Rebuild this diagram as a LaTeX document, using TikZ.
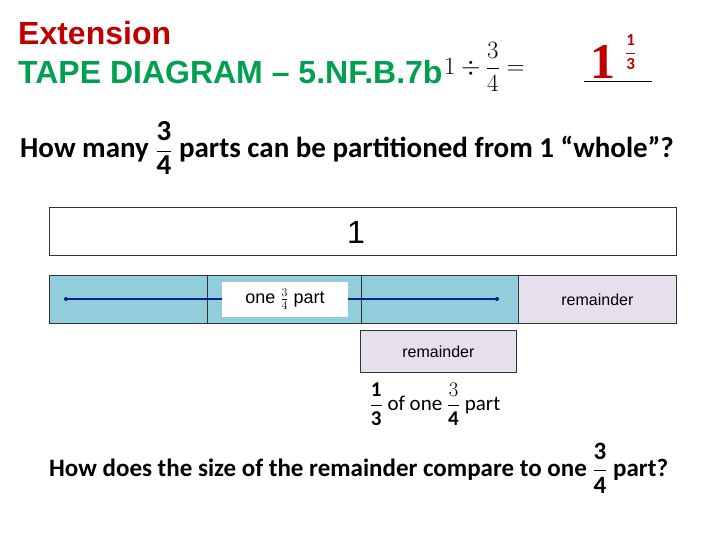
\documentclass[tikz,border=0pt]{standalone}
\usepackage{fontspec}
\setmainfont{Carlito}
\newfontfamily\arialf{Liberation Sans}
\newfontfamily\timesf{Liberation Serif}
\definecolor{tapeblue}{HTML}{92CDDC}
\definecolor{remfill}{HTML}{E5E0EC}
\definecolor{titlered}{HTML}{C00000}
\definecolor{titlegreen}{HTML}{00A050}
\definecolor{lineblue}{HTML}{0A1E8C}
\newcommand{\dfr}[2]{{\displaystyle\frac{#1}{#2}}}
\begin{document}
\begin{tikzpicture}[x=1pt,y=-1pt,
  seg/.style={draw=black!80,line width=0.8pt,minimum height=48pt,inner sep=0pt,anchor=north west},
  lbl/.style={inner sep=0pt,anchor=west}]
\useasboundingbox (0,0) rectangle (720,540);
\node[lbl,text=titlered,font=\arialf\bfseries\fontsize{32}{32}\selectfont] (ext) at (18,33) {Extension};
\node[lbl,text=titlegreen,font=\arialf\bfseries\fontsize{32}{32}\selectfont] (tape) at (18,72) {TAPE DIAGRAM – 5.NF.B.7b};
\node[lbl,font=\fontsize{38}{38}\selectfont] (eq) at (444,67) {$1 \div \dfr{3}{4} =$};
\node[lbl,text=titlered,font=\timesf\bfseries\fontsize{50}{50}\selectfont] (res) at (590,62) {1};
\node[lbl,text=titlered,font=\fontsize{17}{17}\selectfont] (resf) at (625,52) {$\dfr{\mathbf 1}{\mathbf 3}$};
\coordinate (ul1) at (584,82); \coordinate (ul2) at (652,82);
\draw[line width=1pt] (ul1) -- (ul2);
\node[lbl,font=\bfseries\fontsize{29}{29}\selectfont] (q1) at (20,148) {How many $\dfr{\mathbf 3}{\mathbf 4}$ parts can be partitioned from 1 “whole”?};
\node[seg,minimum width=627pt,fill=white] (whole) at (49,207) {};
\node[font=\arialf\fontsize{32}{32}\selectfont] (one) at (356,232) {1};
\node[seg,minimum width=158pt,fill=tapeblue] (s1) at (49,275) {};
\node[seg,minimum width=154pt,fill=tapeblue] (s2) at (207,275) {};
\node[seg,minimum width=157pt,fill=tapeblue] (s3) at (361,275) {};
\node[seg,minimum width=158pt,fill=remfill,font=\arialf\fontsize{16}{16}\selectfont] (s4) at (518,275) {remainder};
\coordinate (a1) at (66,299); \coordinate (a2) at (497,299);
\draw[lineblue,line width=1.3pt] (a1) -- (a2);
\fill[lineblue] (a1) circle (2pt) (a2) circle (2pt);
\node[fill=white,minimum width=126pt,minimum height=35pt,inner sep=0pt,font=\arialf\fontsize{18}{18}\selectfont] (lab) at (285,299) {one $\frac{3}{4}$ part};
\node[seg,minimum width=156pt,minimum height=42pt,fill=remfill,font=\arialf\fontsize{16}{16}\selectfont] (rem) at (360,330) {remainder};
\node[anchor=north,inner sep=0pt,font=\fontsize{21}{21}\selectfont] (third) at (435,383) {$\dfr{\mathbf 1}{\mathbf 3}$ of one $\dfr{3}{\mathbf 4}$ part};
\node[lbl,font=\bfseries\fontsize{25}{25}\selectfont] (q2) at (49,468) {How does the size of the remainder compare to one $\dfr{\mathbf 3}{\mathbf 4}$ part?};
\end{tikzpicture}
\end{document}
